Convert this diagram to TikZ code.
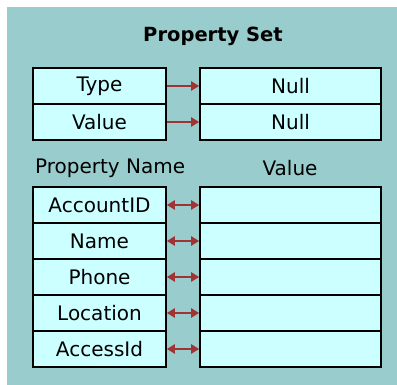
\documentclass[tikz,border=0pt]{standalone}
\usepackage{fontspec}
\setmainfont{DejaVu Sans}
\usetikzlibrary{arrows.meta}
\definecolor{bgc}{HTML}{99CCCC}
\definecolor{cellc}{HTML}{CCFFFF}
\definecolor{arrc}{HTML}{A03333}
\begin{document}
\begin{tikzpicture}[x=1pt,y=-1pt,
  cell/.style={draw=black,line width=1.6pt,fill=cellc,inner sep=0pt,minimum height=36pt,font=\fontsize{20}{22}\selectfont},
  lcell/.style={cell,minimum width=133pt},
  rcell/.style={cell,minimum width=181pt},
  lbl/.style={font=\fontsize{20}{22}\selectfont,inner sep=0pt},
  conn/.style={draw=arrc,line width=2pt},
  ah/.tip={Triangle[length=8pt,width=9pt]}]
\useasboundingbox (0,0) rectangle (397,385);
\fill[bgc] (7,7) rectangle (397,385);
\node[font=\fontsize{19.5}{22}\selectfont\bfseries,inner sep=0pt] (title) at (213,36) {Property Set};
\node[lcell] (tL) at (99.5,86) {Type};
\node[lcell] (vL) at (99.5,122) {Value};
\node[rcell] (tR) at (290.5,86) {Null};
\node[rcell] (vR) at (290.5,122) {Null};
\node[lbl,anchor=west] (hn) at (35,168) {Property Name};
\node[lbl] (hv) at (290,168) {Value};
\foreach \i/\t in {1/AccountID,2/Name,3/Phone,4/Location,5/AccessId}{
  \node[lcell] (p\i) at (99.5,{205+36*(\i-1)}) {\t};
  \node[rcell] (v\i) at (290.5,{205+36*(\i-1)}) {};
}
\draw[conn,-ah] (tL.east) -- (tR.west);
\draw[conn,-ah] (vL.east) -- (vR.west);
\foreach \i in {1,...,5}{
  \draw[conn,ah-ah] (p\i.east) -- (v\i.west);
}
\end{tikzpicture}
\end{document}
